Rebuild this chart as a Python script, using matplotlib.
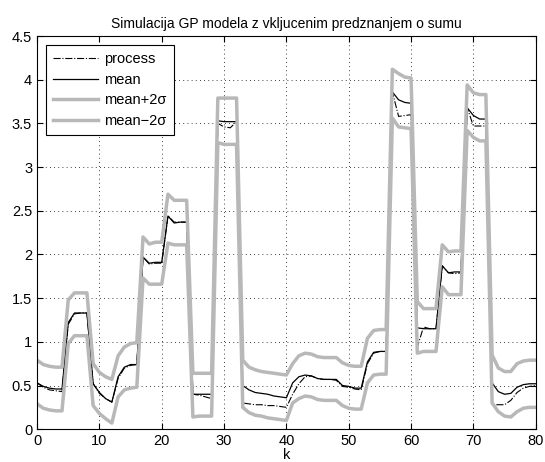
import numpy as np
import matplotlib
matplotlib.use("Agg")
import matplotlib.pyplot as plt
from matplotlib.ticker import FuncFormatter

plt.rcParams['font.family'] = ['Liberation Sans', 'DejaVu Sans']

k = np.arange(0, 81)

mean = [0.53, 0.49, 0.47, 0.46, 0.46, 1.22, 1.33, 1.33, 1.33, 0.52,
        0.42, 0.35, 0.31, 0.60, 0.71, 0.74, 0.74, 1.97, 1.90, 1.91,
        1.91, 2.44, 2.36, 2.37, 2.37, 0.40, 0.40, 0.40, 0.40, 3.53,
        3.52, 3.52, 3.52, 0.50, 0.45, 0.42, 0.41, 0.40, 0.38, 0.37,
        0.36, 0.53, 0.60, 0.62, 0.61, 0.58, 0.57, 0.57, 0.57, 0.50,
        0.49, 0.47, 0.47, 0.77, 0.88, 0.89, 0.89, 3.86, 3.77, 3.74,
        3.73, 1.16, 1.15, 1.15, 1.15, 1.87, 1.79, 1.80, 1.80, 3.68,
        3.59, 3.55, 3.55, 0.53, 0.43, 0.40, 0.41, 0.48, 0.51, 0.52,
        0.52]

process = [0.53, 0.48, 0.45, 0.44, 0.43, 1.20, 1.32, 1.33, 1.33, 0.52,
           0.41, 0.35, 0.31, 0.58, 0.70, 0.73, 0.74, 1.97, 1.89, 1.90,
           1.90, 2.44, 2.37, 2.37, 2.37, 0.40, 0.39, 0.37, 0.35, 3.50,
           3.46, 3.45, 3.52, 0.30, 0.29, 0.28, 0.28, 0.27, 0.27, 0.26,
           0.25, 0.40, 0.52, 0.60, 0.61, 0.58, 0.57, 0.57, 0.56, 0.49,
           0.48, 0.46, 0.45, 0.75, 0.87, 0.89, 0.89, 3.86, 3.58, 3.59,
           3.60, 0.94, 1.17, 1.15, 1.15, 1.87, 1.79, 1.78, 1.79, 3.68,
           3.47, 3.47, 3.47, 0.28, 0.28, 0.28, 0.33, 0.42, 0.47, 0.49,
           0.50]

upper = [0.79, 0.74, 0.72, 0.71, 0.71, 1.48, 1.56, 1.56, 1.56, 0.75,
         0.65, 0.60, 0.57, 0.84, 0.94, 0.98, 0.99, 2.20, 2.12, 2.14,
         2.14, 2.69, 2.62, 2.62, 2.62, 0.64, 0.64, 0.64, 0.64, 3.79,
         3.79, 3.79, 3.79, 0.79, 0.71, 0.68, 0.66, 0.65, 0.64, 0.63,
         0.62, 0.75, 0.84, 0.87, 0.86, 0.83, 0.82, 0.82, 0.82, 0.76,
         0.73, 0.72, 0.72, 1.04, 1.13, 1.14, 1.14, 4.12, 4.07, 4.03,
         4.02, 1.46, 1.38, 1.38, 1.38, 2.11, 2.03, 2.04, 2.04, 3.94,
         3.85, 3.83, 3.83, 0.85, 0.70, 0.66, 0.66, 0.75, 0.78, 0.79,
         0.79]

lower = [0.29, 0.24, 0.22, 0.21, 0.21, 0.98, 1.07, 1.07, 1.07, 0.27,
         0.18, 0.12, 0.07, 0.37, 0.45, 0.47, 0.48, 1.73, 1.66, 1.66,
         1.66, 2.13, 2.11, 2.11, 2.11, 0.14, 0.15, 0.15, 0.15, 3.28,
         3.26, 3.26, 3.26, 0.25, 0.19, 0.16, 0.15, 0.13, 0.12, 0.11,
         0.10, 0.30, 0.35, 0.38, 0.37, 0.34, 0.33, 0.33, 0.33, 0.27,
         0.24, 0.23, 0.23, 0.53, 0.62, 0.63, 0.63, 3.56, 3.46, 3.45,
         3.44, 0.87, 0.89, 0.89, 0.89, 1.63, 1.54, 1.54, 1.54, 3.42,
         3.34, 3.30, 3.30, 0.30, 0.20, 0.15, 0.14, 0.20, 0.24, 0.25,
         0.25]

gray = (0.72, 0.72, 0.72)

fig = plt.figure(figsize=(5.45, 4.62), dpi=100)
ax = fig.add_axes([0.068, 0.071, 0.915, 0.851])

ax.plot(k, process, color='k', linestyle='-.', linewidth=0.8, label='process')
ax.plot(k, mean, color='k', linestyle='-', linewidth=0.9, label='mean')
ax.plot(k, upper, color=gray, linewidth=2.5, label='mean+2\u03c3')
ax.plot(k, lower, color=gray, linewidth=2.5, label='mean\u22122\u03c3')

ax.set_xlim(0, 80)
ax.set_ylim(0, 4.5)
ax.set_xticks(np.arange(0, 81, 10))
ax.set_yticks(np.arange(0, 4.51, 0.5))
ax.yaxis.set_major_formatter(FuncFormatter(lambda v, p: '%g' % v))
ax.tick_params(direction='in', top=True, right=True, labelsize=10.5, length=4)
ax.grid(True, color='k', linestyle=(0, (1, 4)), linewidth=0.6)
for s in ax.spines.values():
    s.set_linewidth(0.8)

ax.set_title('Simulacija GP modela z vkljucenim predznanjem o sumu', fontsize=10, pad=6)
ax.set_xlabel('k', fontsize=10.5, labelpad=0)

leg = ax.legend(loc='upper left', fontsize=10.5, fancybox=False, framealpha=1,
                edgecolor='k', borderpad=0.5, labelspacing=0.45, handlelength=3.1,
                handletextpad=0.4, borderaxespad=0.6)
leg.get_frame().set_linewidth(0.8)

plt.savefig('out.png', dpi=100)
